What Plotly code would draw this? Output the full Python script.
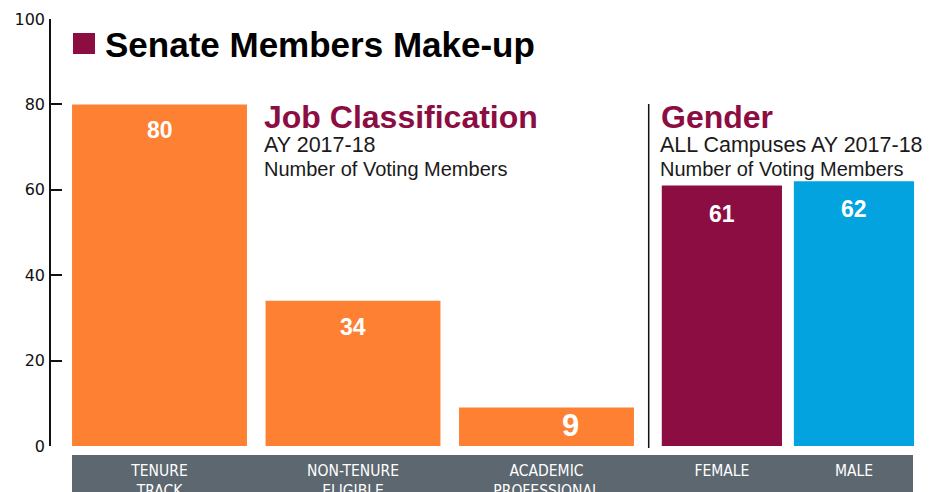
import plotly.graph_objects as go

# ---- data ----
job_categories = ["Tenure Track", "Non-Tenure Eligible", "Academic Professional"]
job_values = [80, 34, 9]
job_tick_labels = ["TENURE<br>TRACK", "NON-TENURE<br>ELIGIBLE", "ACADEMIC<br>PROFESSIONAL"]

gender_categories = ["Female", "Male"]
gender_values = [61, 62]
gender_tick_labels = ["FEMALE", "MALE"]

y_ticks = [0, 20, 40, 60, 80, 100]

# ---- styling ----
W, H = 936, 492
M_T, M_B = 19, 46
PLOT_H = H - M_T - M_B
ORANGE = "#FE8133"
MAROON = "#8B0D42"
BLUE = "#02A3DF"
BAND = "#5D676F"


def px_x(x):
    return x / W


def px_y(y):
    return (H - M_B - y) / PLOT_H


fig = go.Figure()
fig.add_trace(go.Bar(
    x=job_categories, y=job_values, xaxis="x", yaxis="y",
    marker=dict(color=ORANGE, line=dict(width=0)), width=0.904,
    hoverinfo="skip", showlegend=False,
))
fig.add_trace(go.Bar(
    x=gender_categories, y=gender_values, xaxis="x2", yaxis="y",
    marker=dict(color=[MAROON, BLUE], line=dict(width=0)), width=0.91,
    hoverinfo="skip", showlegend=False,
))

tick_font = dict(family="Liberation Sans Narrow, DejaVu Sans Condensed, sans-serif", size=15.5, color="white")

fig.update_layout(
    width=W, height=H,
    margin=dict(l=0, r=0, t=M_T, b=M_B, autoexpand=False),
    paper_bgcolor="white", plot_bgcolor="rgba(0,0,0,0)",
    showlegend=False,
    xaxis=dict(
        domain=[px_x(62.75), px_x(643.25)], anchor="y", automargin=False,
        tickvals=job_categories, ticktext=job_tick_labels,
        showline=False, showgrid=False, zeroline=False, ticks="",
        tickfont=tick_font, ticklabelstandoff=13, fixedrange=True,
    ),
    xaxis2=dict(
        domain=[px_x(655.85), px_x(920)], anchor="y", automargin=False,
        tickvals=gender_categories, ticktext=gender_tick_labels,
        showline=False, showgrid=False, zeroline=False, ticks="",
        tickfont=tick_font, ticklabelstandoff=13, fixedrange=True,
    ),
    yaxis=dict(
        range=[0, 100], anchor="free", position=px_x(50), automargin=False,
        tickvals=y_ticks, ticks="inside", ticklen=11, tickwidth=1.5, tickcolor="#111",
        showline=True, linecolor="#111", linewidth=1.5,
        showgrid=False, zeroline=False,
        tickfont=dict(family="DejaVu Sans", size=16, color="#111"),
        ticklabelstandoff=1, fixedrange=True,
    ),
)

shapes = [
    # grey category band
    dict(type="rect", xref="paper", yref="paper", x0=px_x(72), x1=px_x(913),
         y0=px_y(500), y1=px_y(455), fillcolor=BAND, line=dict(width=0), layer="below"),
    # divider
    dict(type="line", xref="paper", yref="paper", x0=px_x(648.7), x1=px_x(648.7),
         y0=px_y(448), y1=px_y(104), line=dict(color="#111", width=1.5)),
    # title square
    dict(type="rect", xref="paper", yref="paper", x0=px_x(73), x1=px_x(95),
         y0=px_y(54), y1=px_y(33), fillcolor=MAROON, line=dict(width=0)),
]
fig.update_layout(shapes=shapes)

ann = []
# value labels on bars
label_font = dict(family="Liberation Sans, Arial, sans-serif", size=23, color="white", weight="bold")
for cat, val in zip(job_categories, job_values):
    if val < 20:
        ann.append(dict(x=cat, y=val, xref="x", yref="y", text=str(val), showarrow=False,
                        yanchor="middle", yshift=-18, xshift=24,
                        font=dict(family="Liberation Sans, Arial, sans-serif", size=31,
                                  color="white", weight="bold")))
    else:
        ann.append(dict(x=cat, y=val, xref="x", yref="y", text=str(val), showarrow=False,
                        yanchor="middle", yshift=-26, font=label_font))
for cat, val in zip(gender_categories, gender_values):
    ann.append(dict(x=cat, y=val, xref="x2", yref="y", text=str(val), showarrow=False,
                    yanchor="middle", yshift=-28, font=label_font))

text_family = "Liberation Sans, Arial, sans-serif"


def txt(x, yc, s, size, color="#1a1a1a", bold=False):
    f = dict(family=text_family, size=size, color=color)
    if bold:
        f["weight"] = "bold"
    return dict(x=px_x(x), y=px_y(yc), xref="paper", yref="paper", text=s,
                showarrow=False, xanchor="left", yanchor="middle", font=f)


ann += [
    txt(103, 44.5, "Senate Members Make-up", 35, color="black", bold=True),
    txt(262, 116.5, "Job Classification", 32, color=MAROON, bold=True),
    txt(262, 145, "AY 2017-18", 21.5),
    txt(262, 169, "Number of Voting Members", 20),
    txt(659, 116.5, "Gender", 32, color=MAROON, bold=True),
    txt(658, 145, "ALL Campuses AY 2017-18", 21.5),
    txt(658, 169, "Number of Voting Members", 20),
]
fig.update_layout(annotations=ann)

fig.write_html("out.html", config={"displayModeBar": False},
               post_script="document.body.style.margin='0';document.body.style.overflow='hidden';")
